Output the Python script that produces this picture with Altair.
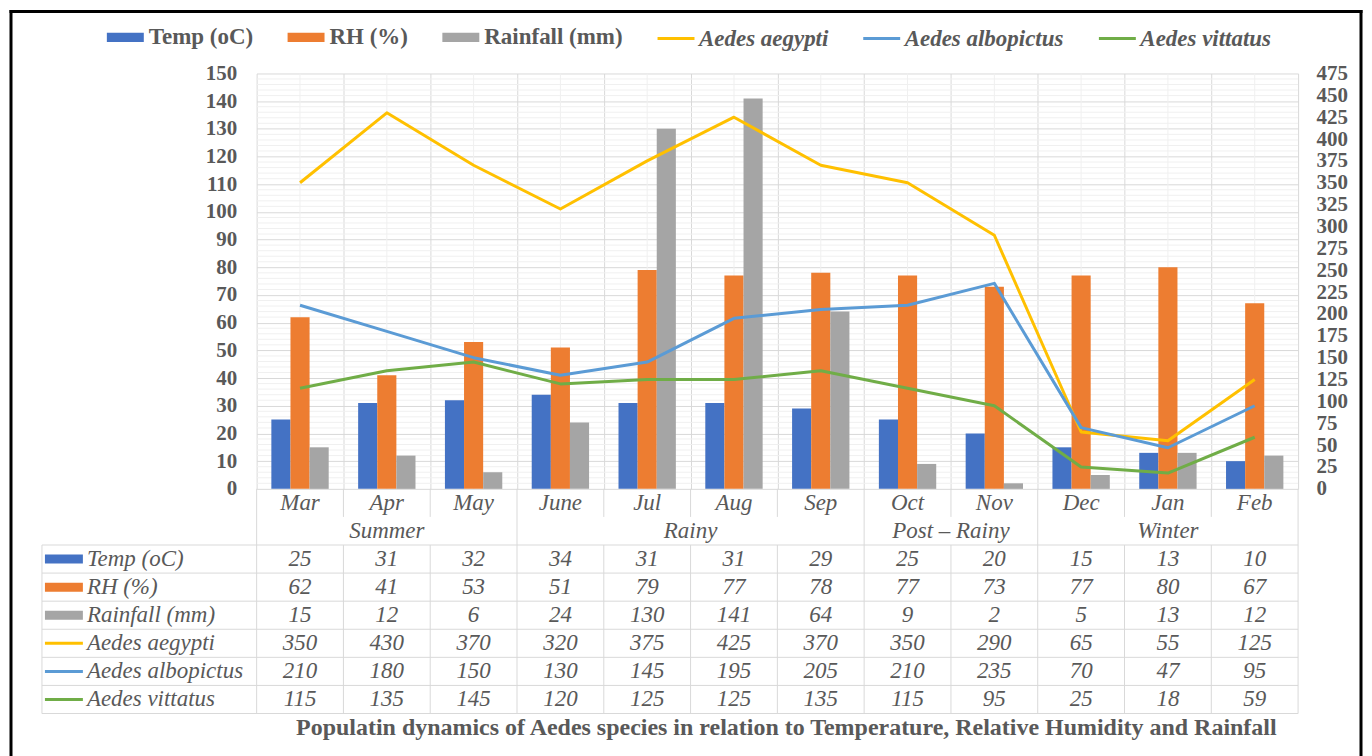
import altair as alt
import pandas as pd

# ---------------- data ----------------
months = ["Mar", "Apr", "May", "June", "Jul", "Aug", "Sep", "Oct", "Nov", "Dec", "Jan", "Feb"]
seasons = ["Summer", "Summer", "Summer", "Rainy", "Rainy", "Rainy", "Rainy",
           "Post \u2013 Rainy", "Post \u2013 Rainy", "Winter", "Winter", "Winter"]

temp = [25, 31, 32, 34, 31, 31, 29, 25, 20, 15, 13, 10]
rh = [62, 41, 53, 51, 79, 77, 78, 77, 73, 77, 80, 67]
rain = [15, 12, 6, 24, 130, 141, 64, 9, 2, 5, 13, 12]
aegypti = [350, 430, 370, 320, 375, 425, 370, 350, 290, 65, 55, 125]
albopictus = [210, 180, 150, 130, 145, 195, 205, 210, 235, 70, 47, 95]
vittatus = [115, 135, 145, 120, 125, 125, 135, 115, 95, 25, 18, 59]

bar_series = ["Temp (oC)", "RH (%)", "Rainfall (mm)"]
line_series = ["Aedes aegypti", "Aedes albopictus", "Aedes vittatus"]
left_ticks = list(range(0, 151, 10))
right_ticks = list(range(0, 476, 25))
title_text = "Populatin dynamics of Aedes species in relation to Temperature, Relative Humidity and Rainfall"

# ---------------- styles ----------------
bar_colors = ["#4472C4", "#ED7D31", "#A5A5A5"]
line_colors = ["#FFC000", "#5B9BD5", "#70AD47"]
FONT = "Liberation Serif"
TXT = "#595959"
GRID = "#D9D9D9"
MINOR = "#F0F0F0"
W, H = 1043, 416
TH = 225
FS = 23

bar_vals = [temp, rh, rain]
line_vals = [aegypti, albopictus, vittatus]

bars_df = pd.DataFrame([{"month": m, "series": s, "value": v}
                        for s, vals in zip(bar_series, bar_vals) for m, v in zip(months, vals)])
lines_df = pd.DataFrame([{"month": m, "series": s, "value": v}
                         for s, vals in zip(line_series, line_vals) for m, v in zip(months, vals)])
minor_df = pd.DataFrame({"v": [v for v in range(0, 151, 2) if v % 10]})
mid_df = pd.DataFrame({"month": months})
one_df = pd.DataFrame({"a": [0]})

x_axis = alt.Axis(labels=False, ticks=False, domain=False, grid=True, tickBand="extent",
                  gridColor=GRID, title=None)
x_scale = alt.Scale(paddingInner=0, paddingOuter=0)


def xenc(center=False):
    if center:
        return alt.X("month:N", sort=months, scale=x_scale, axis=x_axis, bandPosition=0.5)
    return alt.X("month:N", sort=months, scale=x_scale, axis=x_axis)


# outer frame (left, top, right edges; the bottom edge lies below the visible page)
frame_left = alt.Chart(one_df).mark_rule(color="black", strokeWidth=3).encode(
    x=alt.value(-246), y=alt.value(-63.5), y2=alt.value(690))
frame_right = alt.Chart(one_df).mark_rule(color="black", strokeWidth=3).encode(
    x=alt.value(1106), y=alt.value(-63.5), y2=alt.value(690))
frame_top = alt.Chart(one_df).mark_rule(color="black", strokeWidth=3).encode(
    x=alt.value(-247.5), x2=alt.value(1107.5), y=alt.value(-62))

mid_rules = alt.Chart(mid_df).mark_rule(color=MINOR, strokeWidth=1).encode(x=xenc(True))

left_scale = alt.Scale(domain=[0, 150], nice=False)
left_axis = alt.Axis(values=left_ticks, grid=True, gridColor=GRID, domain=False, ticks=False,
                     labelFont=FONT, labelFontSize=21, labelFontWeight="bold",
                     labelColor=TXT, labelPadding=20, title=None)

minor_rules = alt.Chart(minor_df).mark_rule(color=MINOR, strokeWidth=1).encode(
    y=alt.Y("v:Q", scale=left_scale, axis=left_axis))

bars = alt.Chart(bars_df).mark_bar().encode(
    x=xenc(),
    xOffset=alt.XOffset("series:N", sort=bar_series,
                        scale=alt.Scale(domain=bar_series, paddingInner=0, paddingOuter=0.77)),
    y=alt.Y("value:Q", scale=left_scale, axis=left_axis),
    color=alt.Color("series:N", sort=bar_series,
                    scale=alt.Scale(domain=bar_series, range=bar_colors),
                    legend=alt.Legend(orient="none", legendX=-150, legendY=-55,
                                      direction="horizontal", columns=3, title=None,
                                      labelFont=FONT, labelFontSize=FS, labelFontWeight="bold",
                                      labelColor=TXT, labelOffset=5, columnPadding=34,
                                      symbolType="M-1,-0.25L1,-0.25L1,0.25L-1,0.25Z",
                                      symbolSize=1369, symbolStrokeWidth=0)),
)

left = alt.layer(minor_rules, bars)

lines = alt.Chart(lines_df).mark_line(strokeWidth=3, strokeJoin="round").encode(
    x=xenc(True),
    y=alt.Y("value:Q", scale=alt.Scale(domain=[0, 475], nice=False),
            axis=alt.Axis(orient="right", values=right_ticks, grid=False, domain=False, ticks=False,
                          labelFont=FONT, labelFontSize=21, labelFontWeight="bold",
                          labelColor=TXT, labelPadding=18, title=None)),
    stroke=alt.Stroke("series:N", sort=line_series,
                      scale=alt.Scale(domain=line_series, range=line_colors),
                      legend=alt.Legend(orient="none", legendX=400, legendY=-55,
                                        direction="horizontal", columns=3, title=None,
                                        labelFont=FONT, labelFontSize=FS, labelFontWeight="bold",
                                        labelFontStyle="italic", labelColor=TXT, labelOffset=3,
                                        columnPadding=28, symbolType="stroke", symbolSize=1369,
                                        symbolStrokeWidth=3)),
)

main = alt.layer(frame_left, frame_right, frame_top, mid_rules, left, lines).resolve_scale(
    y="independent").properties(width=W, height=H)

# ---------------- table ----------------
tx = alt.Scale(domain=[0, 12], nice=False, zero=False)
ty = alt.Scale(domain=[0, 8], nice=False, zero=False, reverse=True)

month_df = pd.DataFrame({"x": [i + 0.5 for i in range(len(months))], "y": 0.5, "text": months})

season_rows = []
for s in dict.fromkeys(seasons):
    idx = [i for i, v in enumerate(seasons) if v == s]
    season_rows.append({"x": (idx[0] + idx[-1] + 1) / 2, "y": 1.5, "text": s})
season_df = pd.DataFrame(season_rows)

all_names = bar_series + line_series
all_vals = bar_vals + line_vals
val_df = pd.DataFrame([{"x": j + 0.5, "y": r + 2.5, "text": str(v)}
                       for r, vals in enumerate(all_vals) for j, v in enumerate(vals)])
text_df = pd.concat([month_df, season_df, val_df], ignore_index=True)

lab_df = pd.DataFrame({"name": all_names, "y": [r + 2.5 for r in range(len(all_names))]})
bar_lab = lab_df[lab_df["name"].isin(bar_series)]
line_lab = lab_df[lab_df["name"].isin(line_series)]

bounds = [0] + [i for i in range(1, len(seasons)) if seasons[i] != seasons[i - 1]] + [len(seasons)]
vl = []
for j in range(len(months) + 1):
    if j in bounds:
        vl.append({"x": j, "y1": 0, "y2": 8})
    else:
        vl.append({"x": j, "y1": 0, "y2": 1})
        vl.append({"x": j, "y1": 2, "y2": 8})
vl_df = pd.DataFrame(vl)
hl_df = pd.DataFrame({"y": list(range(2, 9))})
lc_df = pd.DataFrame({"y1": [2], "y2": [8]})

tbl_text = alt.Chart(text_df).mark_text(font=FONT, fontSize=FS, fontStyle="italic", color=TXT).encode(
    x=alt.X("x:Q", scale=tx, axis=None), y=alt.Y("y:Q", scale=ty, axis=None), text="text:N")

vrules = alt.Chart(vl_df).mark_rule(color=GRID).encode(
    x=alt.X("x:Q", scale=tx, axis=None), y=alt.Y("y1:Q", scale=ty, axis=None), y2="y2:Q")
hrules = alt.Chart(hl_df).mark_rule(color=GRID).encode(
    x=alt.value(-215), x2=alt.value(W), y=alt.Y("y:Q", scale=ty, axis=None))
lcol = alt.Chart(lc_df).mark_rule(color=GRID).encode(
    x=alt.value(-215), y=alt.Y("y1:Q", scale=ty, axis=None), y2="y2:Q")

sw_bar = alt.Chart(bar_lab).mark_rule(strokeWidth=9).encode(
    x=alt.value(-212), x2=alt.value(-174), y=alt.Y("y:Q", scale=ty, axis=None),
    color=alt.Color("name:N", scale=alt.Scale(domain=bar_series, range=bar_colors), legend=None))
sw_line = alt.Chart(line_lab).mark_rule(strokeWidth=3).encode(
    x=alt.value(-212), x2=alt.value(-174), y=alt.Y("y:Q", scale=ty, axis=None),
    stroke=alt.Stroke("name:N", scale=alt.Scale(domain=line_series, range=line_colors), legend=None))
row_labels = alt.Chart(lab_df).mark_text(font=FONT, fontSize=FS, fontStyle="italic", color=TXT,
                                          align="left").encode(
    x=alt.value(-170), y=alt.Y("y:Q", scale=ty, axis=None), text="name:N")

table = alt.layer(hrules, vrules, lcol, sw_bar, sw_line, row_labels, tbl_text).properties(
    width=W, height=TH,
    title=alt.TitleParams(title_text, orient="bottom", anchor="middle", font=FONT, fontSize=24,
                          fontWeight="bold", color=TXT, offset=2, dx=9))

chart = alt.vconcat(main, table, spacing=0, bounds="flush").resolve_scale(
    color="independent", stroke="independent").properties(padding=0).configure_view(stroke=None)

chart.save("out.html", embed_options={"renderer": "svg", "actions": False})
